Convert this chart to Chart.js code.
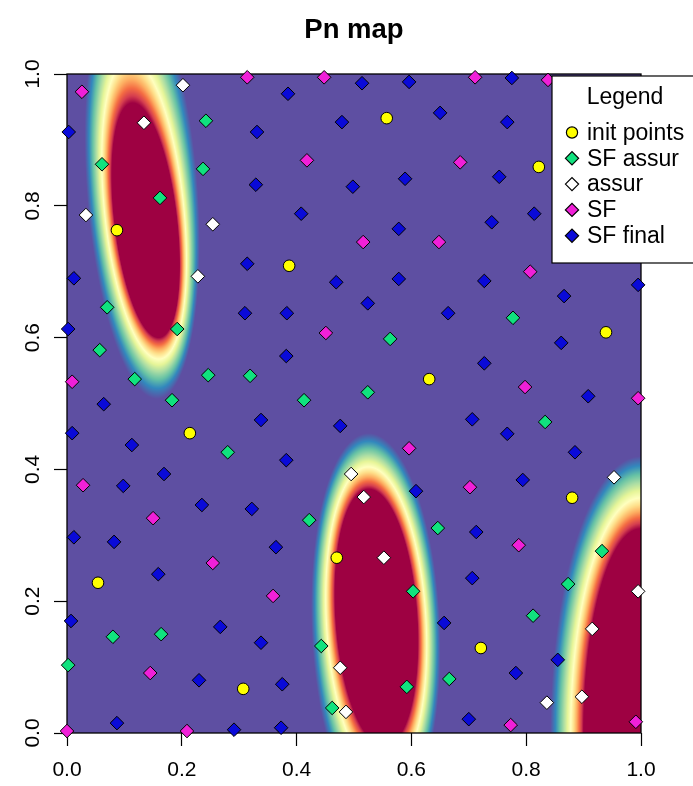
<!DOCTYPE html>
<html>
<head>
<meta charset="utf-8">
<title>Pn map</title>
<script src="https://cdn.jsdelivr.net/npm/chart.js@4.4.1/dist/chart.umd.min.js"></script>
<style>
  html, body { margin: 0; padding: 0; background: #ffffff; }
  canvas { display: block; }
</style>
</head>
<body>
<canvas id="pnChart" width="693" height="786"></canvas>
<script>
// ---- labels ----
const chartTitle = 'Pn map';
const legendTitle = 'Legend';
const seriesNames = ['init points', 'SF assur', 'assur', 'SF', 'SF final'];
const tickValues = [0, 0.2, 0.4, 0.6, 0.8, 1.0];
const tickLabels = ['0.0', '0.2', '0.4', '0.6', '0.8', '1.0'];

// ---- point sets [x, y] ----
const initPoints = [
  [0.087, 0.763], [0.387, 0.709], [0.557, 0.933], [0.822, 0.859], [0.939, 0.608],
  [0.631, 0.537], [0.214, 0.455], [0.054, 0.228], [0.307, 0.067], [0.470, 0.266],
  [0.721, 0.129], [0.880, 0.357]
];
const sfAssurPoints = [
  [0.061, 0.863], [0.162, 0.812], [0.242, 0.929], [0.237, 0.856], [0.070, 0.646],
  [0.192, 0.613], [0.057, 0.581], [0.118, 0.537], [0.183, 0.505], [0.246, 0.543],
  [0.280, 0.426], [0.319, 0.542], [0.563, 0.598], [0.524, 0.517], [0.413, 0.505],
  [0.777, 0.630], [0.833, 0.472], [0.422, 0.323], [0.646, 0.311], [0.603, 0.215],
  [0.443, 0.132], [0.592, 0.070], [0.666, 0.082], [0.462, 0.038], [0.932, 0.276],
  [0.873, 0.226], [0.812, 0.178], [0.080, 0.146], [0.164, 0.150], [0.002, 0.103]
];
const assurPoints = [
  [0.202, 0.983], [0.134, 0.926], [0.033, 0.786], [0.254, 0.772], [0.228, 0.693],
  [0.495, 0.393], [0.517, 0.358], [0.552, 0.266], [0.476, 0.099], [0.486, 0.032],
  [0.953, 0.388], [0.995, 0.215], [0.915, 0.158], [0.897, 0.055], [0.836, 0.046]
];
const sfPoints = [
  [0.026, 0.973], [0.314, 0.995], [0.448, 0.995], [0.711, 0.995], [0.838, 0.991],
  [0.418, 0.869], [0.685, 0.866], [0.516, 0.745], [0.648, 0.745], [0.807, 0.700],
  [0.451, 0.607], [0.798, 0.525], [0.995, 0.508], [0.009, 0.533], [0.596, 0.432],
  [0.028, 0.376], [0.150, 0.326], [0.702, 0.373], [0.254, 0.258], [0.359, 0.208],
  [0.787, 0.285], [0.145, 0.091], [0.000, 0.003], [0.209, 0.003], [0.773, 0.012],
  [0.991, 0.017]
];
const sfFinalPoints = [
  [0.003, 0.912], [0.331, 0.912], [0.329, 0.832], [0.314, 0.712], [0.012, 0.690],
  [0.514, 0.986], [0.596, 0.988], [0.385, 0.970], [0.650, 0.941], [0.479, 0.927],
  [0.498, 0.829], [0.589, 0.841], [0.408, 0.788], [0.578, 0.765], [0.469, 0.684],
  [0.578, 0.689], [0.775, 0.994], [0.767, 0.927], [0.753, 0.844], [0.740, 0.775],
  [0.814, 0.788], [0.727, 0.686], [0.995, 0.680], [0.524, 0.652], [0.310, 0.637],
  [0.383, 0.637], [0.664, 0.637], [0.382, 0.572], [0.338, 0.475], [0.476, 0.466],
  [0.382, 0.414], [0.608, 0.367], [0.866, 0.663], [0.861, 0.592], [0.727, 0.561],
  [0.908, 0.511], [0.706, 0.476], [0.767, 0.454], [0.885, 0.426], [0.794, 0.384],
  [0.002, 0.613], [0.064, 0.499], [0.009, 0.455], [0.113, 0.437], [0.169, 0.393],
  [0.098, 0.375], [0.235, 0.346], [0.322, 0.340], [0.012, 0.297], [0.082, 0.290],
  [0.159, 0.241], [0.007, 0.170], [0.267, 0.161], [0.338, 0.137], [0.230, 0.080],
  [0.087, 0.015], [0.291, 0.005], [0.364, 0.282], [0.375, 0.074], [0.373, 0.008],
  [0.657, 0.167], [0.713, 0.305], [0.706, 0.235], [0.855, 0.111], [0.782, 0.091],
  [0.700, 0.021]
];

// ---- Pn surface: three high-probability zones ----
// each zone: [centerX, centerY, semiAxisX, semiAxisY, shear] for the outer rim and the saturated core
const zoneOuter = [
  [0.131, 0.825, 0.097, 0.318, -0.080],
  [0.538, 0.160, 0.112, 0.295, -0.042],
  [1.000, 0.000, 0.158, 0.420,  0.000]
];
const zoneCore = [
  [0.137, 0.778, 0.0545, 0.178, -0.126],
  [0.539, 0.175, 0.071, 0.195, -0.069],
  [1.000, 0.000, 0.100, 0.310,  0.000]
];
// Spectral palette, low to high
const spectral = ['#5E4FA2', '#3288BD', '#66C2A5', '#ABDDA4', '#E6F598', '#FFFFBF',
                  '#FEE08B', '#FDAE61', '#F46D43', '#D53E4F', '#9E0142'];

const fontFamily = '"Liberation Sans", Arial, Helvetica, sans-serif';

function ellDist(p, x, y) {
  const u = (x - p[0] - p[4] * (y - p[1])) / p[2];
  const v = (y - p[1]) / p[3];
  return Math.sqrt(u * u + v * v);
}
function surfaceLevel(x, y) {
  let best = 0;
  for (let i = 0; i < zoneOuter.length; i++) {
    const dOut = ellDist(zoneOuter[i], x, y);
    if (dOut >= 1) continue;
    const dIn = ellDist(zoneCore[i], x, y);
    let t;
    if (dIn <= 1) t = 1;
    else t = (1 - dOut) / ((1 - dOut) + (dIn - 1));
    if (t > best) best = t;
  }
  return best;
}
const paletteRGB = spectral.map(h => [parseInt(h.slice(1, 3), 16), parseInt(h.slice(3, 5), 16), parseInt(h.slice(5, 7), 16)]);
function levelColor(t) {
  const s = Math.min(Math.max(t, 0), 1) * (paletteRGB.length - 1);
  const i = Math.min(Math.floor(s), paletteRGB.length - 2);
  const f = s - i;
  const a = paletteRGB[i], b = paletteRGB[i + 1];
  return [a[0] + (b[0] - a[0]) * f, a[1] + (b[1] - a[1]) * f, a[2] + (b[2] - a[2]) * f];
}

// draws the surface inside the plot frame, pixel by pixel through the scales
const surfacePlugin = {
  id: 'pnSurface',
  beforeDatasetsDraw(chart) {
    const { ctx, chartArea: a, scales } = chart;
    const w = Math.round(a.right - a.left), h = Math.round(a.bottom - a.top);
    const off = document.createElement('canvas');
    off.width = w; off.height = h;
    const octx = off.getContext('2d');
    const img = octx.createImageData(w, h);
    const xs = new Float64Array(w);
    for (let i = 0; i < w; i++) xs[i] = scales.x.getValueForPixel(a.left + i + 0.5);
    for (let j = 0; j < h; j++) {
      const yv = scales.y.getValueForPixel(a.top + j + 0.5);
      for (let i = 0; i < w; i++) {
        const c = levelColor(surfaceLevel(xs[i], yv));
        const k = (j * w + i) * 4;
        img.data[k] = c[0]; img.data[k + 1] = c[1]; img.data[k + 2] = c[2]; img.data[k + 3] = 255;
      }
    }
    octx.putImageData(img, 0, 0);
    ctx.save();
    ctx.drawImage(off, a.left, a.top);
    ctx.strokeStyle = '#000';
    ctx.lineWidth = 1.3;
    ctx.strokeRect(a.left, a.top, a.right - a.left, a.bottom - a.top);
    ctx.restore();
  }
};

// title and boxed legend in the top-right corner
const decorPlugin = {
  id: 'pnDecor',
  afterDraw(chart) {
    const { ctx, chartArea: a } = chart;
    ctx.save();
    ctx.fillStyle = '#000';
    ctx.font = 'bold 27.5px ' + fontFamily;
    ctx.textAlign = 'center';
    ctx.textBaseline = 'alphabetic';
    ctx.fillText(chartTitle, (a.left + a.right) / 2, 37.5);

    const left = a.left + 485, top = a.top + 2, width = 146, height = 187;
    ctx.fillStyle = '#fff';
    ctx.fillRect(left, top, width, height);
    ctx.strokeStyle = '#000';
    ctx.lineWidth = 1.2;
    ctx.strokeRect(left, top, width, height);

    ctx.fillStyle = '#000';
    ctx.font = '23px ' + fontFamily;
    ctx.textAlign = 'center';
    ctx.textBaseline = 'middle';
    ctx.fillText(legendTitle, left + width / 2, top + 22);
    ctx.textAlign = 'left';
    chart.data.datasets.forEach((ds, i) => {
      const yy = top + 56.5 + i * 25.8;
      const xx = left + 20;
      ctx.fillStyle = ds.backgroundColor;
      ctx.strokeStyle = ds.borderColor;
      ctx.lineWidth = 1.2;
      Chart.helpers.drawPoint(ctx, { pointStyle: ds.pointStyle, radius: ds.pointRadius - 0.2, rotation: 0, borderWidth: 1.2 }, xx, yy);
      ctx.fillStyle = '#000';
      ctx.fillText(ds.label, left + 35, yy + 1);
    });
    ctx.restore();
  }
};

const toXY = arr => arr.map(p => ({ x: p[0], y: p[1] }));
const seriesData = [initPoints, sfAssurPoints, assurPoints, sfPoints, sfFinalPoints];
const seriesFill = ['#FFFF00', '#10E27E', '#FFFFFF', '#F020D8', '#0A0AD8'];
const seriesStyle = ['circle', 'rectRot', 'rectRot', 'rectRot', 'rectRot'];
const seriesRadius = [5.8, 6.8, 6.8, 6.8, 6.8];

const datasets = seriesData.map((d, i) => ({
  label: seriesNames[i],
  data: toXY(d),
  backgroundColor: seriesFill[i],
  borderColor: '#000',
  borderWidth: 1,
  pointStyle: seriesStyle[i],
  pointRadius: seriesRadius[i],
  pointHoverRadius: seriesRadius[i],
  clip: false,
  order: i
}));

const tickFont = { family: fontFamily, size: 21 };
const gridOpts = { display: true, drawOnChartArea: false, drawTicks: true, tickLength: 13, tickColor: '#000', tickWidth: 1.2 };

new Chart(document.getElementById('pnChart'), {
  type: 'scatter',
  data: { datasets },
  options: {
    responsive: false,
    animation: false,
    devicePixelRatio: 1,
    layout: { padding: { top: 74, right: 52, left: 0, bottom: 0 } },
    plugins: {
      legend: { display: false },
      title: { display: false },
      tooltip: { enabled: false }
    },
    scales: {
      x: {
        type: 'linear', min: 0, max: 1,
        afterBuildTicks: s => { s.ticks = tickValues.map(v => ({ value: v })); },
        afterFit: s => { s.height = 53; },
        ticks: { callback: (v, i) => tickLabels[i], font: tickFont, color: '#000', padding: 12, autoSkip: false, minRotation: 0, maxRotation: 0 },
        grid: gridOpts,
        border: { display: false }
      },
      y: {
        type: 'linear', min: 0, max: 1,
        afterBuildTicks: s => { s.ticks = tickValues.map(v => ({ value: v })); },
        afterFit: s => { s.width = 67; },
        ticks: { callback: (v, i) => tickLabels[i], font: tickFont, color: '#000', padding: 6, autoSkip: false, minRotation: 90, maxRotation: 90, crossAlign: 'center' },
        grid: gridOpts,
        border: { display: false }
      }
    }
  },
  plugins: [surfacePlugin, decorPlugin]
});
</script>
</body>
</html>
